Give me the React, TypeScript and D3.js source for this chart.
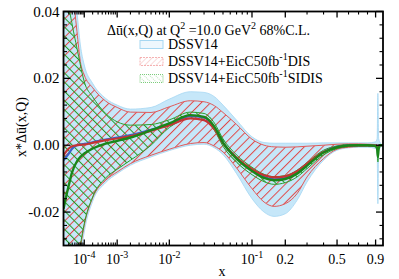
import React from 'react';
import * as d3 from 'd3';

// x grid (momentum fraction)
const X = [1e-5, 2e-5, 3e-5, 5e-5, 7e-5, 1e-4, 2e-4, 5e-4, 1e-3, 2e-3, 5e-3, 0.01, 0.02, 0.03, 0.04, 0.05, 0.07, 0.1, 0.13, 0.16, 0.2, 0.25, 0.3, 0.4, 0.5, 0.6, 0.7, 0.8, 0.9, 0.92, 0.93, 0.94, 0.96, 1.0];

// DSSV14
const DSSV_C = [-0.0045, -0.0025, -0.001, 0.0, 0.0002, 0.0004, 0.0009, 0.0017, 0.0023, 0.003, 0.0046, 0.0063, 0.0087, 0.0083, 0.0052, 0.0008, -0.0038, -0.0075, -0.0095, -0.0102, -0.0098, -0.0082, -0.0058, -0.002, -0.0005, -0.0001, 0.0, 0.0, -0.0001, -0.0003, -0.0008, -0.0003, 0.0, 0.0];
const DSSV_HI = [0.09, 0.07, 0.055, 0.04, 0.03, 0.024, 0.0185, 0.014, 0.012, 0.0108, 0.0113, 0.0138, 0.016, 0.0158, 0.0145, 0.012, 0.0075, 0.0025, 0.0008, 0.0006, 0.0006, 0.0006, 0.0006, 0.0007, 0.0007, 0.0007, 0.0007, 0.0007, 0.001, 0.002, 0.0155, 0.002, 0.0008, 0.0];
const DSSV_LO = [-0.1, -0.08, -0.065, -0.045, -0.034, -0.026, -0.0168, -0.0112, -0.0085, -0.006, -0.0035, -0.0016, 0.0, 0.0003, -0.0008, -0.0028, -0.0085, -0.016, -0.02, -0.0213, -0.0205, -0.0165, -0.011, -0.0045, -0.0015, -0.0008, -0.0006, -0.0006, -0.001, -0.002, -0.0175, -0.002, -0.0008, 0.0];

// DSSV14 + EicC 50fb^-1 DIS
const DIS_C = [-0.003, -0.001, -0.0003, 0.0, 0.0001, 0.0002, 0.0007, 0.0015, 0.002, 0.0027, 0.0043, 0.006, 0.008, 0.0075, 0.0048, 0.0006, -0.0037, -0.0072, -0.009, -0.0096, -0.0093, -0.0078, -0.0055, -0.002, -0.0006, -0.0002, 0.0, 0.0, -0.0001, -0.0004, -0.0012, -0.0004, 0.0, 0.0];
const DIS_HI = [0.08, 0.06, 0.048, 0.034, 0.025, 0.021, 0.0172, 0.0132, 0.0113, 0.0099, 0.0098, 0.0115, 0.0133, 0.013, 0.0118, 0.0098, 0.0062, 0.0018, 0.0, -0.0005, -0.0006, -0.0005, -0.0003, 0.0, 0.0003, 0.0004, 0.0004, 0.0003, 0.0002, 0.0001, -0.0004, 0.0001, 0.0001, 0.0];
const DIS_LO = [-0.09, -0.07, -0.058, -0.04, -0.031, -0.024, -0.0158, -0.0105, -0.008, -0.0055, -0.003, -0.0012, 0.0005, 0.0008, -0.0003, -0.002, -0.0068, -0.013, -0.017, -0.0183, -0.0175, -0.0145, -0.0095, -0.004, -0.0012, -0.0006, -0.0004, -0.0003, -0.0003, -0.0008, -0.0025, -0.0008, -0.0002, 0.0];

// DSSV14 + EicC 50fb^-1 SIDIS
const SIDIS_C = [-0.019, -0.012, -0.008, -0.0048, -0.0035, -0.0025, -0.001, 0.0005, 0.0013, 0.0023, 0.0045, 0.0065, 0.009, 0.0085, 0.0055, 0.0008, -0.004, -0.0077, -0.0098, -0.0105, -0.0101, -0.0085, -0.0061, -0.0022, -0.0006, -0.0001, 0.0, 0.0, -0.0002, -0.001, -0.0035, -0.001, 0.0, 0.0];
const SIDIS_HI = [0.06, 0.042, 0.036, 0.029, 0.024, 0.019, 0.0145, 0.0095, 0.007, 0.006, 0.0062, 0.0076, 0.0099, 0.0095, 0.0066, 0.0019, -0.0029, -0.0066, -0.0087, -0.0094, -0.0091, -0.0075, -0.0052, -0.0015, -0.0002, 0.0002, 0.0002, 0.0002, 0.0001, -0.0004, -0.002, -0.0004, 0.0001, 0.0];
const SIDIS_LO = [-0.09, -0.066, -0.052, -0.038, -0.03, -0.0235, -0.0155, -0.0098, -0.0072, -0.0045, 0.0, 0.0053, 0.008, 0.0075, 0.0044, -0.0003, -0.0051, -0.0088, -0.0109, -0.0117, -0.0112, -0.0095, -0.007, -0.0029, -0.001, -0.0004, -0.0002, -0.0002, -0.0005, -0.0016, -0.005, -0.0016, -0.0001, 0.0];

// ticks
const X_MAJOR = [1e-4, 1e-3, 1e-2, 1e-1, 0.2, 0.5, 0.9];
const X_LABELS = [
  { v: 1e-4, base: '10', sup: '-4' },
  { v: 1e-3, base: '10', sup: '-3' },
  { v: 1e-2, base: '10', sup: '-2' },
  { v: 1e-1, base: '10', sup: '-1' },
  { v: 0.2, base: '0.2', sup: '' },
  { v: 0.5, base: '0.5', sup: '' },
  { v: 0.9, base: '0.9', sup: '' },
];
const Y_MAJOR = [-0.02, 0.0, 0.02, 0.04];
const Y_LABELS = ['-0.02', '0.00', '0.02', '0.04'];

const W = 399, H = 279;
const L = 63.5, R = 383, T = 11.5, B = 245.5;
const FONT = "'Liberation Serif', 'Times New Roman', 'DejaVu Serif', serif";

export default function App() {
  const x = d3.scalePow().exponent(0.2).domain([1e-5, 1]).range([L, R]);
  const y = d3.scaleLinear().domain([-0.03, 0.04]).range([B, T]);

  const area = (lo: number[], hi: number[]) =>
    d3.area<number>().x((d) => x(d)).y0((_, i) => y(lo[i])).y1((_, i) => y(hi[i])).curve(d3.curveMonotoneX)(X) || '';
  const line = (v: number[]) =>
    d3.line<number>().x((d) => x(d)).y((_, i) => y(v[i])).curve(d3.curveMonotoneX)(X) || '';

  const xMinor: number[] = [];
  for (let e = -5; e <= -1; e++) {
    for (let k = 2; k <= 9; k++) {
      const v = k * Math.pow(10, e);
      if (!X_MAJOR.some((m) => Math.abs(m - v) < 1e-12)) xMinor.push(v);
    }
  }
  const yMinor: number[] = [];
  for (let v = -0.028; v < 0.0401; v += 0.004) {
    const r = Math.round(v * 1000) / 1000;
    if (!Y_MAJOR.some((m) => Math.abs(m - r) < 1e-9)) yMinor.push(r);
  }

  const legX = 140, legW = 23, legH = 8;
  const legRows = [48.5, 65.5, 82.5];
  const ts = { fontFamily: FONT, fill: '#000' } as React.CSSProperties;

  return (
    <svg width={W} height={H} style={{ position: 'absolute', left: 0, top: 0, background: '#fff', fontFamily: FONT }}>
      <defs>
        <clipPath id="plotClip">
          <rect x={L} y={T} width={R - L} height={B - T} />
        </clipPath>
        <pattern id="hatchRed" patternUnits="userSpaceOnUse" width={6.5} height={6.5} patternTransform="rotate(45)">
          <line x1={0.5} y1={0} x2={0.5} y2={6.5} stroke="#e04848" strokeWidth={1} />
        </pattern>
        <pattern id="hatchGreen" patternUnits="userSpaceOnUse" width={6.5} height={6.5} patternTransform="rotate(-45)">
          <line x1={0.5} y1={0} x2={0.5} y2={6.5} stroke="#239a23" strokeWidth={1} />
        </pattern>
        <pattern id="hatchRedLeg" patternUnits="userSpaceOnUse" width={4} height={4} patternTransform="rotate(45)">
          <line x1={0} y1={0} x2={0} y2={4} stroke="#f3a0a0" strokeWidth={0.8} />
        </pattern>
        <pattern id="hatchGreenLeg" patternUnits="userSpaceOnUse" width={4} height={4} patternTransform="rotate(-45)">
          <line x1={0} y1={0} x2={0} y2={4} stroke="#5cc05c" strokeWidth={0.8} strokeDasharray="1 1" />
        </pattern>
      </defs>

      <g clipPath="url(#plotClip)">
        <path d={area(DSSV_LO, DSSV_HI)} fill="#c6e7f9" stroke="#a6d7f2" strokeWidth={0.8} />
        <path d={area(DIS_LO, DIS_HI)} fill="url(#hatchRed)" stroke="none" />
        <path d={line(DIS_HI)} fill="none" stroke="#e05a5a" strokeWidth={1} />
        <path d={line(DIS_LO)} fill="none" stroke="#e05a5a" strokeWidth={1} />
        <path d={area(SIDIS_LO, SIDIS_HI)} fill="url(#hatchGreen)" stroke="none" />
        <path d={line(SIDIS_HI)} fill="none" stroke="#2a9e2a" strokeWidth={1} />
        <path d={line(SIDIS_LO)} fill="none" stroke="#2a9e2a" strokeWidth={1} />
        <path d={line(DSSV_C)} fill="none" stroke="#3a64cc" strokeWidth={2.2} />
        <path d={line(DIS_C)} fill="none" stroke="#c43434" strokeWidth={2.2} />
        <path d={line(SIDIS_C)} fill="none" stroke="#1a861a" strokeWidth={2.4} />
      </g>

      <rect x={L} y={T} width={R - L} height={B - T} fill="none" stroke="#000" strokeWidth={1.8} />

      {X_MAJOR.map((v) => (
        <g key={'xM' + v}>
          <line x1={x(v)} x2={x(v)} y1={B} y2={B - 6} stroke="#000" strokeWidth={1.3} />
          <line x1={x(v)} x2={x(v)} y1={T} y2={T + 6} stroke="#000" strokeWidth={1.3} />
        </g>
      ))}
      {xMinor.map((v) => (
        <g key={'xm' + v}>
          <line x1={x(v)} x2={x(v)} y1={B} y2={B - 3} stroke="#000" strokeWidth={1.1} />
          <line x1={x(v)} x2={x(v)} y1={T} y2={T + 3} stroke="#000" strokeWidth={1.1} />
        </g>
      ))}
      {Y_MAJOR.map((v) => (
        <g key={'yM' + v}>
          <line x1={L} x2={L + 7} y1={y(v)} y2={y(v)} stroke="#000" strokeWidth={1.3} />
          <line x1={R} x2={R - 7} y1={y(v)} y2={y(v)} stroke="#000" strokeWidth={1.3} />
        </g>
      ))}
      {yMinor.map((v) => (
        <g key={'ym' + v}>
          <line x1={L} x2={L + 3.5} y1={y(v)} y2={y(v)} stroke="#000" strokeWidth={1.1} />
          <line x1={R} x2={R - 3.5} y1={y(v)} y2={y(v)} stroke="#000" strokeWidth={1.1} />
        </g>
      ))}

      {Y_MAJOR.map((v, i) => (
        <text key={'yl' + v} x={L - 4} y={y(v) + 5} textAnchor="end" fontSize={15} style={ts}>
          {Y_LABELS[i]}
        </text>
      ))}

      {X_LABELS.map((d) => (
        <text key={'xl' + d.v} x={x(d.v)} y={264} textAnchor="middle" fontSize={14} style={ts}>
          {d.base}
          {d.sup && (
            <tspan dy={-6} fontSize={10}>
              {d.sup}
            </tspan>
          )}
        </text>
      ))}

      <text x={222} y={276} textAnchor="middle" fontSize={14} style={ts}>x</text>
      <text transform="translate(26,127) rotate(-90)" textAnchor="middle" fontSize={14} style={ts}>
        x*Δū(x,Q)
      </text>

      <text x={107} y={35} fontSize={14} style={ts}>
        Δū(x,Q) at Q<tspan dy={-6} fontSize={10}>2</tspan>
        <tspan dy={6}> =10.0 GeV</tspan>
        <tspan dy={-6} fontSize={10}>2</tspan>
        <tspan dy={6}> 68%C.L.</tspan>
      </text>

      <rect x={legX} y={legRows[0] - legH} width={legW} height={legH} fill="#eef7fd" stroke="#a6d7f2" strokeWidth={1} />
      <rect x={legX} y={legRows[1] - legH} width={legW} height={legH} fill="url(#hatchRedLeg)" stroke="#f3a0a0" strokeWidth={0.8} strokeDasharray="2 1" />
      <rect x={legX} y={legRows[2] - legH} width={legW} height={legH} fill="url(#hatchGreenLeg)" stroke="#5cc05c" strokeWidth={0.8} strokeDasharray="1 1" />

      <text x={168} y={legRows[0]} fontSize={14} style={ts}>DSSV14</text>
      <text x={168} y={legRows[1]} fontSize={14} style={ts}>
        DSSV14+EicC50fb<tspan dy={-6} fontSize={10}>-1</tspan>
        <tspan dy={6}>DIS</tspan>
      </text>
      <text x={168} y={legRows[2]} fontSize={14} style={ts}>
        DSSV14+EicC50fb<tspan dy={-6} fontSize={10}>-1</tspan>
        <tspan dy={6}>SIDIS</tspan>
      </text>
    </svg>
  );
}
